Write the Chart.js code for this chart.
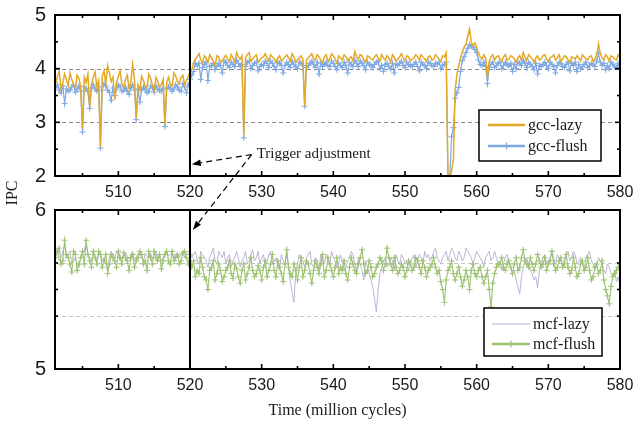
<!DOCTYPE html>
<html>
<head>
<meta charset="utf-8">
<title>IPC gcc / mcf</title>
<script src="https://cdn.jsdelivr.net/npm/chart.js@4.4.0/dist/chart.umd.min.js"></script>
<style>
  html, body { margin: 0; padding: 0; background: #fff; }
  #wrap { position: relative; width: 633px; height: 428px; }
  #wrap canvas { position: absolute; left: 0; top: 0; }
</style>
</head>
<body>
<div id="wrap">
  <canvas id="gcc" width="633" height="428"></canvas>
  <canvas id="mcf" width="633" height="428"></canvas>
</div>
<script>
/* ── data: one sample every 0.25 million cycles, 501.25 … 580 (8 per row) ── */
const T_START = 501.25;
const T_STEP = 0.25;

const GCC_LAZY = [
  3.72, 3.86, 3.95, 3.62, 3.74, 3.90, 3.80, 3.68,
  3.92, 3.80, 3.70, 3.64, 3.88, 3.82, 3.66, 2.88,
  3.84, 3.74, 3.90, 3.28, 3.70, 3.84, 3.94, 3.66,
  3.78, 2.55, 3.86, 3.96, 3.72, 4.06, 3.92, 3.76,
  3.84, 3.42, 3.74, 3.86, 3.96, 3.70, 3.66, 3.80,
  3.88, 3.62, 3.76, 4.08, 3.80, 3.08, 3.70, 3.60,
  3.86, 3.78, 3.68, 3.64, 3.90, 3.82, 3.70, 3.60,
  3.84, 3.76, 3.66, 3.70, 3.80, 2.96, 3.74, 3.84,
  3.70, 3.68, 3.92, 3.86, 3.76, 3.72, 3.84, 3.88,
  3.70, 3.78, 3.86, 3.94, 3.98, 4.10, 4.18, 4.22,
  4.28, 4.16, 4.10, 4.24, 4.20, 4.12, 4.26, 4.20,
  4.14, 4.05, 4.24, 4.22, 4.12, 4.15, 4.20, 4.25,
  4.18, 4.14, 4.26, 4.20, 4.12, 4.30, 4.22, 4.18,
  4.24, 2.76, 4.20, 4.26, 4.30, 4.14, 4.18, 4.22,
  4.26, 4.12, 4.16, 4.20, 4.22, 4.28, 4.20, 4.15,
  4.26, 4.22, 4.18, 4.12, 4.20, 4.24, 4.14, 4.18,
  4.22, 4.26, 4.20, 4.14, 4.28, 4.22, 4.12, 4.16,
  4.20, 4.24, 4.18, 3.30, 4.16, 4.20, 4.24, 4.28,
  4.18, 4.16, 4.26, 4.22, 4.16, 4.12, 4.22, 4.26,
  4.14, 4.18, 4.28, 4.24, 4.18, 4.10, 4.24, 4.20,
  4.16, 4.26, 4.22, 4.15, 4.20, 4.22, 4.14, 4.32,
  4.22, 4.18, 4.26, 4.24, 4.16, 4.12, 4.24, 4.22,
  4.18, 4.16, 4.22, 4.26, 4.20, 4.14, 4.26, 4.20,
  4.16, 4.24, 4.20, 4.12, 4.26, 4.22, 4.14, 4.18,
  4.22, 4.28, 4.20, 4.15, 4.24, 4.22, 4.14, 4.18,
  4.20, 4.26, 4.22, 4.16, 4.26, 4.22, 4.18, 4.14,
  4.22, 4.24, 4.16, 4.18, 4.26, 4.22, 4.18, 4.14,
  4.24, 4.22, 4.30, 1.95, 1.95, 2.10, 2.30, 3.60,
  3.90, 4.05, 4.20, 4.32, 4.40, 4.45, 4.60, 4.74,
  4.50, 4.42, 4.48, 4.40, 4.28, 4.22, 4.18, 4.26,
  4.20, 3.84, 4.14, 4.22, 4.26, 4.16, 4.22, 4.24,
  4.18, 4.14, 4.22, 4.26, 4.16, 4.18, 4.24, 4.22,
  4.18, 4.12, 4.20, 4.24, 4.16, 4.30, 4.22, 4.16,
  4.26, 4.22, 4.18, 4.12, 4.20, 4.24, 4.16, 4.18,
  4.24, 4.26, 4.18, 4.14, 4.20, 4.22, 4.26, 4.16,
  4.20, 4.26, 4.14, 4.18, 4.24, 4.22, 4.16, 4.12,
  4.22, 4.20, 4.18, 4.24, 4.20, 4.14, 4.26, 4.22,
  4.18, 4.16, 4.22, 4.24, 4.14, 4.18, 4.26, 4.46,
  4.28, 4.20, 4.16, 4.26, 4.22, 4.14, 4.24, 4.22,
  4.18, 4.16, 4.26, 4.20
];

const GCC_FLUSH = [
  3.64, 3.70, 3.60, 3.55, 3.68, 3.35, 3.62, 3.58,
  3.60, 3.66, 3.70, 3.56, 3.62, 3.68, 3.58, 2.82,
  3.66, 3.62, 3.58, 3.26, 3.64, 3.70, 3.62, 3.58,
  3.66, 2.52, 3.60, 3.72, 3.68, 3.60, 3.56, 3.41,
  3.64, 3.50, 3.62, 3.70, 3.66, 3.58, 3.60, 3.66,
  3.58, 3.52, 3.64, 3.70, 3.60, 3.05, 3.62, 3.38,
  3.60, 3.66, 3.62, 3.55, 3.58, 3.68, 3.64, 3.56,
  3.68, 3.62, 3.60, 3.58, 3.64, 2.92, 3.62, 3.66,
  3.64, 3.58, 3.62, 3.70, 3.66, 3.60, 3.58, 3.72,
  3.66, 3.55, 3.70, 3.80, 3.88, 3.95, 4.10, 4.05,
  4.10, 3.80, 4.02, 4.08, 4.12, 3.78, 4.04, 4.06,
  4.10, 3.98, 4.04, 4.10, 4.06, 3.92, 4.14, 4.12,
  4.06, 4.02, 4.12, 4.08, 4.04, 4.16, 4.10, 4.04,
  4.08, 2.71, 4.04, 4.12, 4.14, 4.00, 4.06, 4.10,
  4.12, 3.96, 4.04, 4.08, 4.06, 4.14, 4.10, 4.02,
  4.14, 4.10, 4.04, 3.98, 4.12, 4.10, 4.06, 3.92,
  4.06, 4.12, 4.08, 4.02, 4.14, 4.08, 4.04, 4.00,
  4.12, 4.10, 4.06, 3.30, 4.02, 4.06, 4.10, 4.14,
  4.08, 4.02, 4.12, 3.90, 4.10, 4.04, 4.08, 4.12,
  4.06, 4.04, 4.14, 4.10, 4.04, 3.98, 4.10, 4.06,
  4.02, 4.12, 4.06, 3.92, 4.12, 4.08, 4.04, 4.16,
  4.10, 4.04, 4.14, 4.10, 4.06, 3.98, 4.12, 4.08,
  4.06, 4.02, 4.08, 4.12, 4.14, 4.00, 4.06, 3.95,
  4.08, 4.10, 4.04, 4.00, 4.10, 3.92, 4.08, 4.06,
  4.10, 4.14, 4.06, 4.02, 4.12, 4.08, 4.06, 4.04,
  4.08, 4.12, 4.04, 3.96, 4.12, 4.08, 4.06, 4.00,
  4.12, 4.10, 4.06, 4.04, 4.10, 4.08, 4.12, 4.00,
  4.06, 4.08, 4.12, 1.95, 2.00, 2.73, 2.90, 3.45,
  3.55, 3.65, 3.95, 4.15, 4.22, 4.30, 4.38, 4.45,
  4.42, 4.40, 4.36, 4.30, 4.16, 4.08, 4.06, 4.12,
  4.04, 3.72, 4.02, 4.08, 4.12, 4.02, 4.06, 4.10,
  4.12, 4.00, 4.06, 4.12, 4.08, 4.04, 4.10, 3.95,
  4.08, 4.00, 4.12, 4.10, 4.06, 4.16, 4.10, 4.02,
  4.12, 4.08, 4.04, 3.98, 4.10, 3.90, 4.06, 4.04,
  4.08, 4.12, 4.06, 4.00, 4.12, 4.08, 4.04, 3.92,
  4.06, 4.12, 4.10, 4.04, 4.02, 4.08, 4.12, 3.96,
  4.10, 4.06, 4.12, 3.95, 4.08, 4.00, 4.04, 4.08,
  4.12, 4.02, 4.06, 4.10, 4.08, 4.04, 4.14, 4.28,
  4.12, 4.06, 4.10, 3.98, 4.06, 4.00, 4.12, 4.08,
  4.04, 4.02, 4.10, 4.06
];

const MCF_LAZY = [
  5.72, 5.76, 5.68, 5.70, 5.74, 5.78, 5.70, 5.72,
  5.74, 5.66, 5.68, 5.70, 5.66, 5.64, 5.70, 5.72,
  5.75, 5.79, 5.72, 5.70, 5.68, 5.74, 5.71, 5.68,
  5.72, 5.73, 5.68, 5.70, 5.66, 5.62, 5.70, 5.74,
  5.72, 5.70, 5.74, 5.72, 5.68, 5.70, 5.72, 5.73,
  5.71, 5.69, 5.72, 5.74, 5.68, 5.70, 5.73, 5.72,
  5.70, 5.68, 5.73, 5.71, 5.70, 5.73, 5.69, 5.72,
  5.74, 5.70, 5.72, 5.68, 5.70, 5.73, 5.74, 5.71,
  5.72, 5.74, 5.70, 5.72, 5.73, 5.70, 5.72, 5.74,
  5.70, 5.72, 5.74, 5.73, 5.70, 5.72, 5.74, 5.68,
  5.66, 5.74, 5.72, 5.70, 5.68, 5.64, 5.70, 5.73,
  5.76, 5.68, 5.66, 5.74, 5.72, 5.70, 5.74, 5.66,
  5.70, 5.72, 5.64, 5.68, 5.70, 5.74, 5.70, 5.64,
  5.68, 5.70, 5.74, 5.66, 5.68, 5.72, 5.75, 5.68,
  5.70, 5.74, 5.66, 5.70, 5.72, 5.64, 5.68, 5.72,
  5.74, 5.66, 5.68, 5.70, 5.66, 5.62, 5.72, 5.68,
  5.66, 5.72, 5.64, 5.55, 5.48, 5.42, 5.60, 5.66,
  5.72, 5.70, 5.68, 5.64, 5.70, 5.72, 5.74, 5.66,
  5.64, 5.70, 5.68, 5.62, 5.72, 5.68, 5.66, 5.72,
  5.70, 5.66, 5.74, 5.70, 5.68, 5.64, 5.66, 5.72,
  5.68, 5.62, 5.64, 5.68, 5.70, 5.74, 5.72, 5.66,
  5.62, 5.70, 5.66, 5.62, 5.56, 5.68, 5.64, 5.60,
  5.56, 5.52, 5.44, 5.36, 5.50, 5.60, 5.64, 5.68,
  5.70, 5.64, 5.66, 5.70, 5.68, 5.62, 5.72, 5.68,
  5.66, 5.72, 5.70, 5.66, 5.68, 5.62, 5.66, 5.70,
  5.72, 5.64, 5.68, 5.72, 5.70, 5.66, 5.74, 5.70,
  5.72, 5.68, 5.70, 5.74, 5.76, 5.70, 5.68, 5.66,
  5.70, 5.72, 5.74, 5.68, 5.72, 5.76, 5.74, 5.70,
  5.68, 5.74, 5.72, 5.68, 5.70, 5.76, 5.74, 5.72,
  5.70, 5.66, 5.70, 5.74, 5.72, 5.70, 5.68, 5.64,
  5.70, 5.72, 5.74, 5.68, 5.70, 5.74, 5.70, 5.66,
  5.68, 5.62, 5.66, 5.70, 5.72, 5.66, 5.64, 5.60,
  5.62, 5.56, 5.52, 5.47, 5.58, 5.64, 5.68, 5.70,
  5.66, 5.62, 5.60, 5.56, 5.58, 5.51, 5.62, 5.66,
  5.70, 5.72, 5.66, 5.68, 5.70, 5.74, 5.70, 5.66,
  5.72, 5.70, 5.68, 5.64, 5.70, 5.72, 5.74, 5.68,
  5.70, 5.74, 5.72, 5.66, 5.68, 5.70, 5.66, 5.64,
  5.70, 5.72, 5.74, 5.68, 5.66, 5.62, 5.66, 5.70,
  5.68, 5.66, 5.62, 5.60, 5.66, 5.64, 5.60, 5.58,
  5.62, 5.55, 5.58, 5.52
];

const MCF_FLUSH = [
  5.70, 5.74, 5.76, 5.66, 5.68, 5.81, 5.72, 5.70,
  5.66, 5.61, 5.74, 5.72, 5.62, 5.66, 5.70, 5.74,
  5.66, 5.81, 5.72, 5.68, 5.64, 5.74, 5.70, 5.66,
  5.74, 5.72, 5.64, 5.68, 5.72, 5.60, 5.66, 5.72,
  5.70, 5.68, 5.64, 5.74, 5.70, 5.66, 5.73, 5.70,
  5.68, 5.62, 5.70, 5.72, 5.64, 5.68, 5.70, 5.74,
  5.72, 5.66, 5.68, 5.62, 5.74, 5.70, 5.66, 5.74,
  5.70, 5.68, 5.72, 5.63, 5.68, 5.72, 5.74, 5.68,
  5.66, 5.74, 5.68, 5.70, 5.72, 5.66, 5.68, 5.73,
  5.74, 5.70, 5.66, 5.72, 5.64, 5.68, 5.58, 5.62,
  5.60, 5.70, 5.64, 5.58, 5.56, 5.50, 5.62, 5.64,
  5.68, 5.56, 5.60, 5.66, 5.62, 5.55, 5.58, 5.62,
  5.64, 5.68, 5.60, 5.57, 5.66, 5.63, 5.58, 5.54,
  5.62, 5.66, 5.56, 5.60, 5.64, 5.70, 5.62, 5.58,
  5.60, 5.65, 5.62, 5.56, 5.64, 5.68, 5.58, 5.62,
  5.66, 5.72, 5.62, 5.58, 5.68, 5.64, 5.60, 5.55,
  5.66, 5.75, 5.64, 5.60, 5.58, 5.66, 5.62, 5.56,
  5.64, 5.70, 5.58, 5.62, 5.68, 5.66, 5.60, 5.54,
  5.62, 5.68, 5.64, 5.60, 5.66, 5.72, 5.58, 5.62,
  5.70, 5.66, 5.62, 5.58, 5.64, 5.70, 5.60, 5.64,
  5.62, 5.68, 5.60, 5.56, 5.64, 5.70, 5.66, 5.62,
  5.60, 5.66, 5.70, 5.75, 5.66, 5.60, 5.62, 5.68,
  5.64, 5.58, 5.60, 5.64, 5.66, 5.70, 5.68, 5.62,
  5.66, 5.76, 5.70, 5.66, 5.62, 5.70, 5.64, 5.60,
  5.62, 5.66, 5.64, 5.58, 5.62, 5.68, 5.66, 5.62,
  5.64, 5.70, 5.68, 5.64, 5.60, 5.68, 5.64, 5.58,
  5.62, 5.64, 5.66, 5.70, 5.64, 5.60, 5.62, 5.55,
  5.50, 5.42, 5.56, 5.62, 5.64, 5.68, 5.60, 5.56,
  5.60, 5.64, 5.58, 5.52, 5.56, 5.62, 5.58, 5.50,
  5.62, 5.66, 5.60, 5.58, 5.62, 5.64, 5.58, 5.54,
  5.58, 5.62, 5.50, 5.39, 5.54, 5.60, 5.64, 5.66,
  5.66, 5.70, 5.64, 5.62, 5.66, 5.68, 5.64, 5.60,
  5.66, 5.70, 5.62, 5.64, 5.70, 5.75, 5.68, 5.66,
  5.64, 5.70, 5.66, 5.62, 5.66, 5.72, 5.68, 5.64,
  5.66, 5.70, 5.62, 5.66, 5.68, 5.74, 5.66, 5.62,
  5.64, 5.68, 5.70, 5.64, 5.66, 5.72, 5.64, 5.60,
  5.62, 5.70, 5.64, 5.58, 5.60, 5.66, 5.68, 5.62,
  5.64, 5.70, 5.62, 5.56, 5.58, 5.64, 5.66, 5.60,
  5.62, 5.68, 5.56, 5.50, 5.46, 5.41, 5.52, 5.58,
  5.60, 5.62, 5.64, 5.66
];

/* ── axes ── */
const X_MIN = 501.16, X_MAX = 580;
const X_MAJOR = [510, 520, 530, 540, 550, 560, 570, 580];
const X_MINOR = [505, 515, 525, 535, 545, 555, 565, 575];
const GCC_Y_MAJOR = [2, 3, 4, 5];
const GCC_Y_MINOR = [2.5, 3.5, 4.5];
const GCC_GRID = [3, 4];
const MCF_Y_MAJOR = [5, 6];
const MCF_Y_MINOR = [5.333, 5.5, 5.667];
const MCF_GRID = [5.333, 5.667];
const TRIGGER_X = 520;

/* annotation anchors, in data units */
const NOTE_TEXT = "Trigger adjustment";
const NOTE_AT = [529.3, 2.40];        // top panel
const ARROW_TAIL = [528.6, 2.40];     // top panel
const ARROW_HEAD_GCC = [520.25, 2.22];
const ARROW_HEAD_MCF = [520.4, 5.875];

const SANS = "'Liberation Sans', Arial, sans-serif";
const SERIF = "'Liberation Serif', 'Times New Roman', serif";
const INK = "#1a1a1a";

const TIME = GCC_LAZY.map((_, i) => T_START + i * T_STEP);
const xy = (arr) => arr.map((v, i) => ({ x: TIME[i], y: v }));

/* ── plugins ── */
function seg(ctx, x0, y0, x1, y1) {
  ctx.beginPath();
  ctx.moveTo(x0, y0);
  ctx.lineTo(x1, y1);
  ctx.stroke();
}

// dashed grid, box and inward ticks on all four sides
const framePlugin = {
  id: "frame",
  beforeDatasetsDraw(chart, args, o) {
    const { ctx, chartArea: a, scales: { y } } = chart;
    ctx.save();
    ctx.strokeStyle = o.gridColor;
    ctx.lineWidth = 1;
    ctx.setLineDash([4, 3]);
    o.grid.forEach((v) => {
      const py = Math.round(y.getPixelForValue(v)) + 0.5;
      seg(ctx, a.left, py, a.right, py);
    });
    ctx.restore();
  },
  afterDatasetsDraw(chart, args, o) {
    const { ctx, chartArea: a, scales: { x, y } } = chart;
    ctx.save();
    ctx.strokeStyle = "#000";
    ctx.lineWidth = 1.6;
    const tick = (vals, len) => {
      vals.forEach((v) => {
        const px = x.getPixelForValue(v);
        seg(ctx, px, a.bottom, px, a.bottom - len);
        seg(ctx, px, a.top, px, a.top + len);
      });
    };
    const ytick = (vals, len) => {
      vals.forEach((v) => {
        const py = y.getPixelForValue(v);
        seg(ctx, a.left, py, a.left + len, py);
        seg(ctx, a.right, py, a.right - len, py);
      });
    };
    tick(X_MAJOR, 5);
    tick(X_MINOR, 3);
    ytick(o.yMajor, 5);
    ytick(o.yMinor, 3);
    ctx.lineWidth = 2;
    ctx.strokeRect(a.left, a.top, a.right - a.left, a.bottom - a.top);
    ctx.restore();
  },
};

// boxed legend in the lower right of the plot
const boxLegend = {
  id: "boxLegend",
  afterDraw(chart, args, o) {
    const { ctx, chartArea: a } = chart;
    const bx = a.right - o.inset[0] - o.size[0];
    const by = a.bottom - o.inset[1] - o.size[1];
    ctx.save();
    ctx.fillStyle = "#fff";
    ctx.fillRect(bx, by, o.size[0], o.size[1]);
    ctx.strokeStyle = "#000";
    ctx.lineWidth = 1.5;
    ctx.strokeRect(bx, by, o.size[0], o.size[1]);
    o.rows.forEach((label, i) => {
      const ds = chart.data.datasets.find((d) => d.label === label);
      const ly = by + o.rowY[i];
      ctx.strokeStyle = ds.borderColor;
      ctx.lineWidth = o.lineWidths[i];
      seg(ctx, bx + o.lineX[0], ly, bx + o.lineX[1], ly);
      if (ds.pointRadius > 0) {
        const cx = bx + (o.lineX[0] + o.lineX[1]) / 2, r = ds.pointRadius + 0.5;
        ctx.lineWidth = 1.2;
        seg(ctx, cx - r, ly, cx + r, ly);
        seg(ctx, cx, ly - r, cx, ly + r);
      }
      ctx.fillStyle = INK;
      ctx.font = "16px " + SERIF;
      ctx.textBaseline = "middle";
      ctx.fillText(label, bx + o.textX, ly + 1);
    });
    ctx.restore();
  },
};

function panelOptions(cfg) {
  return {
    responsive: false,
    animation: false,
    devicePixelRatio: 1,
    events: [],
    layout: { padding: cfg.padding },
    scales: {
      x: {
        type: "linear",
        min: X_MIN,
        max: X_MAX,
        grid: { display: false, drawTicks: false },
        border: { display: false },
        afterBuildTicks: (s) => { s.ticks = X_MAJOR.map((v) => ({ value: v })); },
        afterFit: (s) => {
          s.height = cfg.xHeight;
          s.paddingLeft = 0;
          s.paddingRight = 0;
        },
        ticks: { font: { family: SANS, size: 16 }, color: INK, padding: 7, maxRotation: 0, autoSkip: false },
        title: cfg.xTitle,
      },
      y: {
        type: "linear",
        min: cfg.yMajor[0],
        max: cfg.yMajor[cfg.yMajor.length - 1],
        grid: { display: false, drawTicks: false },
        border: { display: false },
        afterBuildTicks: (s) => { s.ticks = cfg.yMajor.map((v) => ({ value: v })); },
        afterFit: (s) => {
          s.width = 55;
          s.paddingTop = 0;
          s.paddingBottom = 0;
        },
        ticks: { font: { family: SANS, size: 20 }, color: INK, padding: 9 },
      },
    },
    plugins: {
      legend: { display: false },
      tooltip: { enabled: false },
      frame: { grid: cfg.grid, gridColor: cfg.gridColor, yMajor: cfg.yMajor, yMinor: cfg.yMinor },
      boxLegend: cfg.legend,
    },
  };
}

function triggerLine(yMajor) {
  return {
    label: "_trigger",
    data: [{ x: TRIGGER_X, y: yMajor[0] }, { x: TRIGGER_X, y: yMajor[yMajor.length - 1] }],
    borderColor: "#000",
    borderWidth: 2,
    pointRadius: 0,
    order: 0,
  };
}

/* ── top panel: gcc ── */
const gccChart = new Chart(document.getElementById("gcc"), {
  type: "line",
  data: {
    datasets: [
      triggerLine(GCC_Y_MAJOR),
      {
        label: "gcc-lazy",
        data: xy(GCC_LAZY),
        borderColor: "#E3A928",
        borderWidth: 1.5,
        pointRadius: 0,
        tension: 0,
        order: 1,
      },
      {
        label: "gcc-flush",
        data: xy(GCC_FLUSH),
        borderColor: "#7EA8E2",
        borderWidth: 1.2,
        pointStyle: "cross",
        pointRadius: 3,
        pointBorderWidth: 1,
        pointBorderColor: "#7EA8E2",
        tension: 0,
        order: 2,
      },
    ],
  },
  options: panelOptions({
    padding: { left: 0, top: 15, right: 13, bottom: 223 },
    xHeight: 29,
    xTitle: { display: false },
    yMajor: GCC_Y_MAJOR,
    yMinor: GCC_Y_MINOR,
    grid: GCC_GRID,
    gridColor: "#8a8a8a",
    legend: {
      inset: [19, 15], size: [122, 51],
      rows: ["gcc-lazy", "gcc-flush"], rowY: [15, 36],
      lineX: [9, 46], textX: 49, lineWidths: [2.6, 2.4],
    },
  }),
  plugins: [framePlugin, boxLegend],
});

/* ── bottom panel: mcf, plus the shared annotation ── */
const notePlugin = {
  id: "note",
  afterDraw(chart) {
    const { ctx } = chart;
    const gx = gccChart.scales.x, gy = gccChart.scales.y;
    const mx = chart.scales.x, my = chart.scales.y;
    const tx = gx.getPixelForValue(ARROW_TAIL[0]), ty = gy.getPixelForValue(ARROW_TAIL[1]);
    const arrow = (hx, hy) => {
      const ang = Math.atan2(hy - ty, hx - tx), len = 9, half = 3.2;
      const bx = hx - len * Math.cos(ang), by = hy - len * Math.sin(ang);
      ctx.setLineDash([6, 4]);
      seg(ctx, tx, ty, bx, by);
      ctx.setLineDash([]);
      ctx.beginPath();
      ctx.moveTo(hx, hy);
      ctx.lineTo(bx + half * Math.sin(ang), by - half * Math.cos(ang));
      ctx.lineTo(bx - half * Math.sin(ang), by + half * Math.cos(ang));
      ctx.closePath();
      ctx.fill();
    };
    ctx.save();
    ctx.strokeStyle = "#000";
    ctx.fillStyle = "#000";
    ctx.lineWidth = 1.2;
    arrow(gx.getPixelForValue(ARROW_HEAD_GCC[0]), gy.getPixelForValue(ARROW_HEAD_GCC[1]));
    arrow(mx.getPixelForValue(ARROW_HEAD_MCF[0]), my.getPixelForValue(ARROW_HEAD_MCF[1]));
    ctx.fillStyle = INK;
    ctx.font = "15px " + SERIF;
    ctx.textBaseline = "middle";
    ctx.fillText(NOTE_TEXT, gx.getPixelForValue(NOTE_AT[0]), gy.getPixelForValue(NOTE_AT[1]));
    // shared y-axis title
    ctx.font = "16px " + SERIF;
    ctx.textAlign = "center";
    ctx.translate(13, (gccChart.chartArea.bottom + chart.chartArea.top) / 2);
    ctx.rotate(-Math.PI / 2);
    ctx.fillText("IPC", 0, 0);
    ctx.restore();
  },
};

const mcfChart = new Chart(document.getElementById("mcf"), {
  type: "line",
  data: {
    datasets: [
      triggerLine(MCF_Y_MAJOR),
      {
        label: "mcf-flush",
        data: xy(MCF_FLUSH),
        borderColor: "#9DC272",
        borderWidth: 1.1,
        pointStyle: "cross",
        pointRadius: 3,
        pointBorderWidth: 1,
        pointBorderColor: "#9DC272",
        tension: 0,
        order: 1,
      },
      {
        label: "mcf-lazy",
        data: xy(MCF_LAZY),
        borderColor: "#BDB3D6",
        borderWidth: 1,
        pointRadius: 0,
        tension: 0,
        order: 2,
      },
    ],
  },
  options: panelOptions({
    padding: { left: 0, top: 210, right: 13, bottom: 0 },
    xHeight: 59,
    xTitle: {
      display: true,
      text: "Time (million cycles)",
      font: { family: SERIF, size: 16 },
      color: INK,
      padding: { top: 0, bottom: 8 },
    },
    yMajor: MCF_Y_MAJOR,
    yMinor: MCF_Y_MINOR,
    grid: MCF_GRID,
    gridColor: "#c4c4c4",
    legend: {
      inset: [18, 13], size: [118, 48],
      rows: ["mcf-lazy", "mcf-flush"], rowY: [16, 36],
      lineX: [8, 46], textX: 49, lineWidths: [1.2, 2.4],
    },
  }),
  plugins: [framePlugin, boxLegend, notePlugin],
});
</script>
</body>
</html>
